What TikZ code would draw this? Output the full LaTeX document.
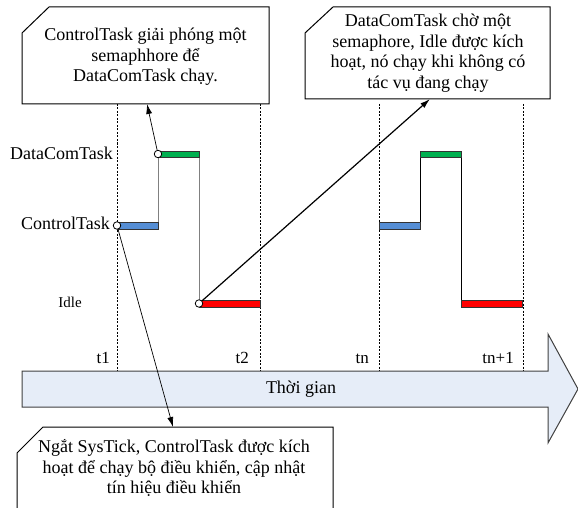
\documentclass[tikz,border=0pt]{standalone}
\usepackage{fontspec}
\setmainfont{Liberation Serif}
\usetikzlibrary{arrows.meta}

\definecolor{barblue}{HTML}{558ED5}
\definecolor{bargreen}{HTML}{00B050}
\definecolor{barred}{HTML}{FF0000}
\definecolor{timefill}{HTML}{E6EDF8}
\definecolor{timeedge}{HTML}{404040}

\tikzset{
  txt/.style={font=\fontsize{18}{20.5}\selectfont, inner sep=0pt, align=center},
  tlabel/.style={font=\fontsize{17}{19}\selectfont, inner sep=0pt, anchor=base east},
  tasklabel/.style={font=\fontsize{18}{20}\selectfont, inner sep=0pt, anchor=base east},
  callout/.style={draw=black, line width=1pt, fill=white, line join=miter},
  tick/.style={draw=black, line width=0.6pt, dash pattern=on 2pt off 1.5pt},
  bar/.style={draw=black!80, line width=0.8pt},
  riser/.style={line width=1pt},
  dot/.style={circle, draw=black, fill=white, line width=0.8pt, minimum size=7.5pt, inner sep=0pt},
  pointer/.style={draw=black, line width=0.7pt, -{Latex[length=10pt,width=6pt]}},
}

\begin{document}
\begin{tikzpicture}[x=1pt, y=-1pt]
\useasboundingbox (0,0) rectangle (578,508);

% dashed time marks
\foreach \xx in {117,260,379,523}
  \draw[tick] (\xx,104) -- (\xx,371);

% time axis arrow
\draw[fill=timefill, draw=timeedge, line width=1pt, line join=miter]
  (22,371) -- (548,371) -- (548,334) -- (578,389) -- (548,443) -- (548,407) -- (22,407) -- cycle;
\node[txt] (axis) at (301,389) {Thời gian};

% time mark labels
\node[tlabel] (t1) at (110,363) {t1};
\node[tlabel] (t2) at (249,363) {t2};
\node[tlabel] (tn) at (369,363) {tn};
\node[tlabel] (tn1) at (514,363) {tn+1};

% task names
\node[tasklabel] (lblData) at (113,159) {DataComTask};
\node[tasklabel] (lblCtrl) at (110,229) {ControlTask};
\node[tasklabel, font=\fontsize{15}{17}\selectfont] (lblIdle) at (82,307) {Idle};

% first period: level changes and bars
\draw[riser, draw=black!50] (158,225.5) -- (158,154) (199,154) -- (199,303.5);
\filldraw[bar, fill=barblue]  (117,222) rectangle (158,229);
\filldraw[bar, fill=bargreen] (158,151) rectangle (199,157);
\filldraw[bar, fill=barred]   (199,300) rectangle (260,307);

% second period
\draw[riser, draw=black] (420,225.5) -- (420,154) (461,154) -- (461,303.5);
\filldraw[bar, fill=barblue]  (379,222) rectangle (420,229);
\filldraw[bar, fill=bargreen] (420,151) rectangle (461,157);
\filldraw[bar, fill=barred]   (461,300) rectangle (522,307);

% event markers
\node[dot] (evCtrl) at (117,225.5) {};
\node[dot] (evData) at (158,154) {};
\node[dot] (evIdle) at (199,303.5) {};

% callout boxes
\draw[callout] (49,7) -- (269,7) -- (269,104) -- (22,104) -- (22,33) -- cycle;
\node[txt] (noteData) at (145.5,57) {ControlTask giải phóng một\\semaphhore để\\DataComTask chạy.};
\coordinate (noteDataIn) at (147,104);

\draw[callout] (333,7) -- (550,7) -- (550,99) -- (305,99) -- (305,33) -- cycle;
\node[txt] (noteIdle) at (428,53) {DataComTask chờ một\\semaphore, Idle được kích\\hoạt, nó chạy khi không có\\tác vụ đang chạy};
\coordinate (noteIdleIn) at (430,99);

\draw[callout] (43,427) -- (333,427) -- (333,515) -- (17,515) -- (17,453) -- cycle;
\node[txt] (noteCtrl) at (174,468) {Ngắt SysTick, ControlTask được kích\\hoạt để chạy bộ điều khiển, cập nhật\\tín hiệu điều khiển};
\coordinate (noteCtrlIn) at (173,427);

% pointers from events to their notes
\draw[pointer] (evData) -- (noteDataIn);
\draw[pointer, line width=1.2pt] (evIdle) -- (noteIdleIn);
\draw[pointer] (evCtrl) -- (noteCtrlIn);
\end{tikzpicture}
\end{document}
